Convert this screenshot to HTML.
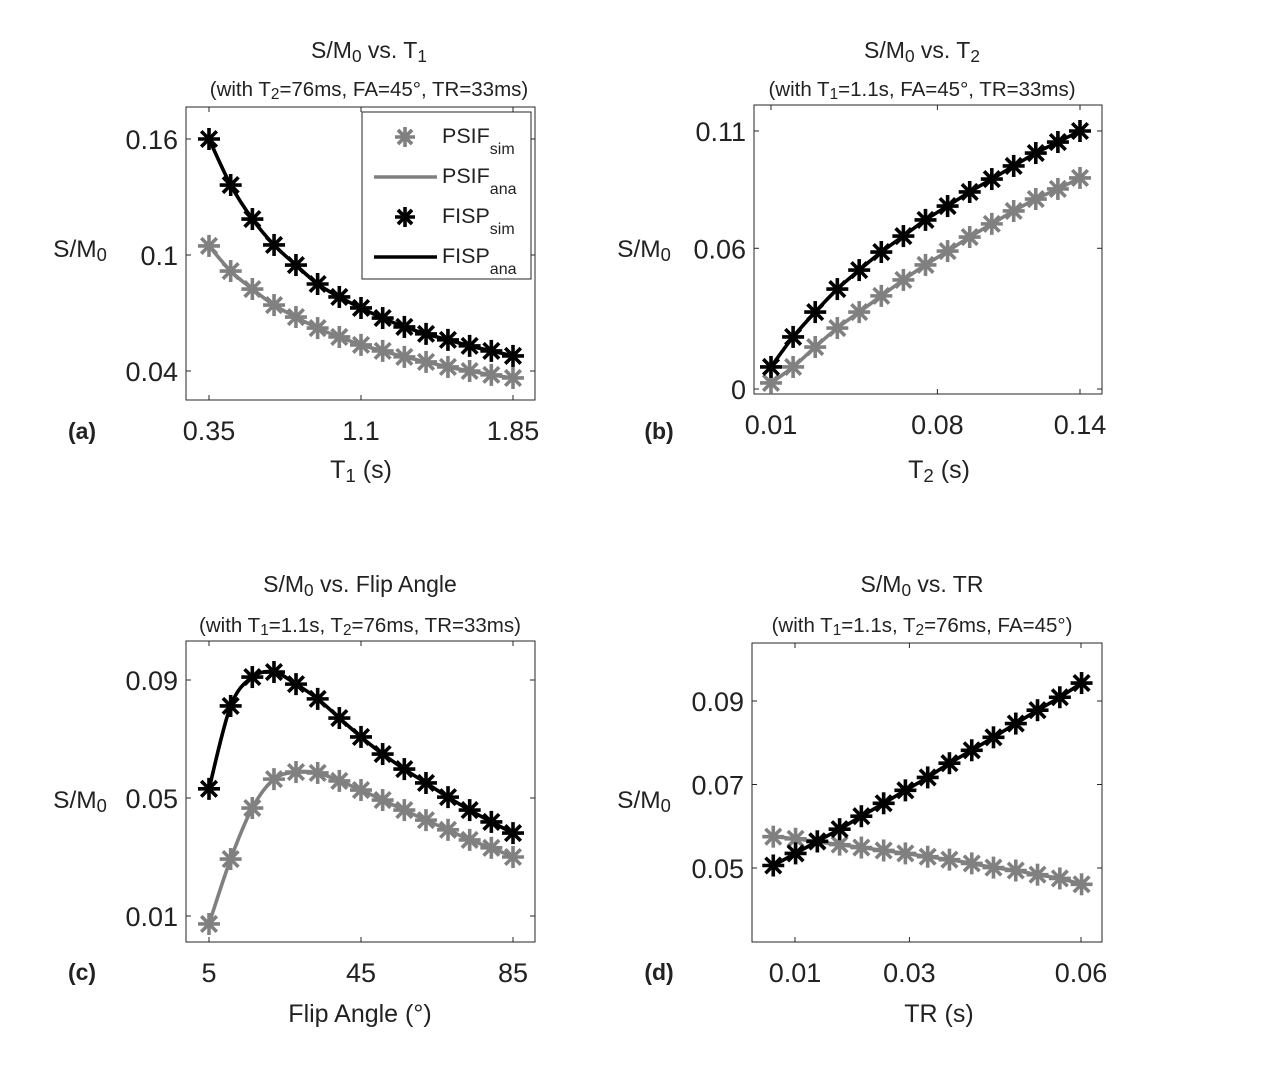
<!DOCTYPE html>
<html><head><meta charset="utf-8">
<style>
body{margin:0;background:#fff;}
svg text{font-family:"Liberation Sans",Arial,sans-serif;fill:#222;}
</style></head>
<body>
<svg id="fig" width="1275" height="1069" xmlns="http://www.w3.org/2000/svg"></svg>
<script>
// Panel (a) data
const aX = [0.35,0.457,0.564,0.671,0.779,0.886,0.993,1.1,1.207,1.314,1.421,1.529,1.636,1.743,1.85];
const aFISP = [0.160,0.1362,0.1186,0.1052,0.0948,0.0850,0.0783,0.0726,0.0674,0.0628,0.0592,0.0561,0.0530,0.0504,0.0478];
const aPSIF = [0.1047,0.0917,0.0824,0.0741,0.0679,0.0622,0.0576,0.0535,0.0504,0.0473,0.0447,0.0421,0.0400,0.0380,0.0364];
const aTicksX = [0.35,1.1,1.85], aTicksY = [0.04,0.1,0.16];
// Panel (b) data
const bX = [0.01,0.0193,0.0286,0.0379,0.0471,0.0564,0.0657,0.075,0.0843,0.0936,0.1029,0.1121,0.1214,0.1307,0.14];
const bFISP = [0.0094,0.0222,0.0328,0.0426,0.0507,0.0584,0.0652,0.0721,0.0780,0.0840,0.0895,0.0951,0.1006,0.1053,0.1100];
const bPSIF = [0.0026,0.0094,0.0179,0.0260,0.0328,0.0397,0.0465,0.0529,0.0588,0.0648,0.0704,0.0759,0.0810,0.0853,0.0900];
const bTicksX = [0.01,0.08,0.14], bTicksY = [0,0.06,0.11];
// Panel (c) data
const cX = [5,10.7,16.4,22.1,27.9,33.6,39.3,45,50.7,56.4,62.1,67.9,73.6,79.3,85];
const cFISP = [0.0531,0.0812,0.0910,0.0927,0.0886,0.0836,0.0771,0.0707,0.0649,0.0598,0.0551,0.0503,0.0459,0.0419,0.0381];
const cPSIF = [0.0073,0.0293,0.0466,0.0564,0.0588,0.0585,0.0558,0.0527,0.0493,0.0459,0.0425,0.0392,0.0358,0.0331,0.0300];
const cTicksX = [5,45,85], cTicksY = [0.01,0.05,0.09];
// Panel (d) data
const dX = [0.0062,0.0101,0.0139,0.0178,0.0216,0.0255,0.0293,0.0332,0.0370,0.0409,0.0447,0.0486,0.0524,0.0563,0.0601];
const dFISP = [0.0506,0.0535,0.0564,0.0593,0.0624,0.0655,0.0686,0.0717,0.0751,0.0782,0.0813,0.0846,0.0878,0.0909,0.0943];
const dPSIF = [0.0575,0.0570,0.0563,0.0556,0.0549,0.0542,0.0535,0.0527,0.0520,0.0511,0.0501,0.0494,0.0484,0.0475,0.0461];
const dTicksX = [0.01,0.03,0.06], dTicksY = [0.05,0.07,0.09];

const NS="http://www.w3.org/2000/svg";
const svg=document.getElementById('fig');
function mk(tag,attrs,parent){const e=document.createElementNS(NS,tag);for(const k in attrs)e.setAttribute(k,attrs[k]);(parent||svg).appendChild(e);return e;}
function star(g,x,y,col,r){
  for(let i=0;i<4;i++){const a=i*Math.PI/4;
    const l=mk('line',{x1:x-r*Math.cos(a),y1:y-r*Math.sin(a),x2:x+r*Math.cos(a),y2:y+r*Math.sin(a),stroke:col,'stroke-width':3.6},g);
    
    }
}
function smoothPath(pts){
  let d='M'+pts[0][0]+','+pts[0][1];
  for(let i=0;i<pts.length-1;i++){
    const p0=pts[Math.max(0,i-1)],p1=pts[i],p2=pts[i+1],p3=pts[Math.min(pts.length-1,i+2)];
    const c1=[p1[0]+(p2[0]-p0[0])/6,p1[1]+(p2[1]-p0[1])/6],c2=[p2[0]-(p3[0]-p1[0])/6,p2[1]-(p3[1]-p1[1])/6];
    d+=' C'+c1.join(',')+' '+c2.join(',')+' '+p2.join(',');
  }
  return d;
}
function fmt(v){return String(v);}
function panel(o){
  const g=mk('g',{});
  
  
  const sx=v=>o.px0+(v-o.xv0)*(o.px1-o.px0)/(o.xv1-o.xv0);
  const sy=v=>o.py0+(v-o.yv0)*(o.py1-o.py0)/(o.yv1-o.yv0);
  const box=mk('rect',{x:o.bx0,y:o.by0,width:o.bx1-o.bx0,height:o.by1-o.by0,fill:'none',stroke:'#262626','stroke-width':1},g);
  
  
  o.tx.forEach(v=>{const x=sx(v);
    mk('line',{x1:x,y1:o.by1,x2:x,y2:o.by1-5,stroke:'#262626'},g);
    mk('line',{x1:x,y1:o.by0,x2:x,y2:o.by0+5,stroke:'#262626'},g);
    const t=mk('text',{x:x,y:o.by1+40,'text-anchor':'middle','font-size':27},g);t.textContent=fmt(v);
    
    });
  o.ty.forEach(v=>{const y=sy(v);
    mk('line',{x1:o.bx0,y1:y,x2:o.bx0+5,y2:y,stroke:'#262626'},g);
    mk('line',{x1:o.bx1,y1:y,x2:o.bx1-5,y2:y,stroke:'#262626'},g);
    const t=mk('text',{x:o.bx0-8,y:y+10,'text-anchor':'end','font-size':27},g);t.textContent=fmt(v);
    
    });
  [[o.psif,'#808080','psif'],[o.fisp,'#000','fisp']].forEach(([arr,col,nm])=>{
    const pts=o.xs.map((x,i)=>[sx(x),sy(arr[i])]);
    const p=mk('path',{d:smoothPath(pts),fill:'none',stroke:col,'stroke-width':3.6},g);
    
    
    pts.forEach(pt=>{const mg=mk('g',{},g);
      
      
      star(mg,pt[0],pt[1],col,11);});
  });
  return g;
}
function html(x,y,size,content,name,anchor){
  const t=mk('text',{x:x,y:y,'font-size':size,'text-anchor':anchor||'middle'});
  t.innerHTML=content;
  
  
  return t;
}
const sub=(s)=>'<tspan baseline-shift="-22%" font-size="0.75em">'+s+'</tspan>';

panel({id:'a',xs:aX,fisp:aFISP,psif:aPSIF,tx:aTicksX,ty:aTicksY,bx0:186,bx1:535,by0:107,by1:400,px0:209,px1:513,xv0:0.35,xv1:1.85,py0:371,py1:139,yv0:0.04,yv1:0.16});
panel({id:'b',xs:bX,fisp:bFISP,psif:bPSIF,tx:bTicksX,ty:bTicksY,bx0:754,bx1:1102,by0:105,by1:394,px0:771,px1:1080,xv0:0.01,xv1:0.14,py0:389,py1:131,yv0:0,yv1:0.11});
panel({id:'c',xs:cX,fisp:cFISP,psif:cPSIF,tx:cTicksX,ty:cTicksY,bx0:186,bx1:535,by0:641,by1:942,px0:209,px1:513,xv0:5,xv1:85,py0:916,py1:680,yv0:0.01,yv1:0.09});
panel({id:'d',xs:dX,fisp:dFISP,psif:dPSIF,tx:dTicksX,ty:dTicksY,bx0:752,bx1:1102,by0:643,by1:942,px0:795,px1:1081,xv0:0.01,xv1:0.06,py0:868,py1:701,yv0:0.05,yv1:0.09});

// titles
html(369,58,23,'S/M'+sub('0')+' vs. T'+sub('1'),'title-a');
html(369,96,20.5,'(with T'+sub('2')+'=76ms, FA=45°, TR=33ms)','subtitle-a');
html(922,58,23,'S/M'+sub('0')+' vs. T'+sub('2'),'title-b');
html(922,96,20.5,'(with T'+sub('1')+'=1.1s, FA=45°, TR=33ms)','subtitle-b');
html(360,592,23,'S/M'+sub('0')+' vs. Flip Angle','title-c');
html(360,632,20.5,'(with T'+sub('1')+'=1.1s, T'+sub('2')+'=76ms, TR=33ms)','subtitle-c');
html(922,592,23,'S/M'+sub('0')+' vs. TR','title-d');
html(922,632,20.5,'(with T'+sub('1')+'=1.1s, T'+sub('2')+'=76ms, FA=45°)','subtitle-d');
// axis labels
html(361,478,25,'T'+sub('1')+' (s)','x-axis-title-a');
html(939,478,25,'T'+sub('2')+' (s)','x-axis-title-b');
html(360,1022,25,'Flip Angle (°)','x-axis-title-c');
html(939,1022,25,'TR (s)','x-axis-title-d');
html(80,257,24.5,'S/M'+sub('0'),'y-axis-title-a');
html(644,257,24.5,'S/M'+sub('0'),'y-axis-title-b');
html(80,808,24.5,'S/M'+sub('0'),'y-axis-title-c');
html(644,808,24.5,'S/M'+sub('0'),'y-axis-title-d');
html(82,439,23,'<tspan font-weight="bold">(a)</tspan>','panel-label-a');
html(659,439,23,'<tspan font-weight="bold">(b)</tspan>','panel-label-b');
html(82,980,23,'<tspan font-weight="bold">(c)</tspan>','panel-label-c');
html(659,980,23,'<tspan font-weight="bold">(d)</tspan>','panel-label-d');
// legend
const lg=mk('g',{});


mk('rect',{x:362,y:112,width:169,height:167,fill:'#fff',stroke:'#262626','stroke-width':1},lg);
const ent=[['PSIF','sim','#808080',true],['PSIF','ana','#808080',false],['FISP','sim','#000',true],['FISP','ana','#000',false]];
ent.forEach((e,i)=>{const y=137+i*40;
  const eg=mk('g',{},lg);
  
  
  if(e[3])star(eg,405,y,e[2],10);else mk('line',{x1:374,y1:y,x2:437,y2:y,stroke:e[2],'stroke-width':3.6},eg);
  const t=mk('text',{x:442,y:y+6,'font-size':21.5},eg);
  t.innerHTML=e[0]+'<tspan dy="11" font-size="16">'+e[1]+'</tspan>';
});
</script>
</body></html>
